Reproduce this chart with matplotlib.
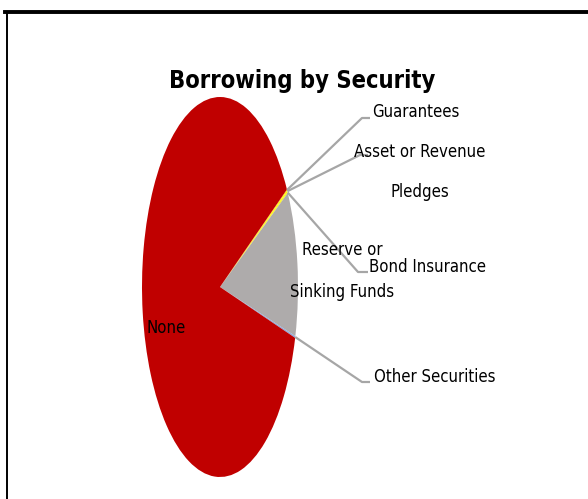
"""
Pie chart of borrowing broken down by security type.
"""
import numpy as np
import matplotlib
matplotlib.use('Agg')
import matplotlib.pyplot as plt
from matplotlib.lines import Line2D
from matplotlib import font_manager

categories = [
    'Guarantees',
    'Asset or Revenue\nPledges',
    'Bond Insurance',
    'Reserve or\nSinking Funds',
    'Other Securities',
    'None',
]
shares = [0.1, 0.15, 0.1, 12.4, 0.15, 87.1]  # percent of borrowing
colors = ['#FFC000', '#FFFF00', '#F2E21A', '#AEABAB', '#8EA9DB', '#C00000']

W, H = 588, 499          # figure size, px
CX, CY = 220, 287        # pie centre, px from top-left
RX, RY = 78, 190         # pie semi-axes, px

LEADER = '#A6A6A6'

# label placement (px): (elbow, line end, text x, ha, baselines)
label_layout = {
    'Guarantees': ((362, 118), (370, 118), 372, 'left', [117]),
    'Asset or Revenue\nPledges': ((360, 155), (368, 155), 420, 'center', [157, 197]),
    'Bond Insurance': ((358, 272), (368, 272), 369, 'left', [272]),
    'Reserve or\nSinking Funds': (None, None, 342, 'center', [255, 297]),
    'Other Securities': ((362, 382), (370, 382), 374, 'left', [382]),
    'None': (None, None, 166, 'center', [333]),
}


def pick_font():
    """Narrowest sans available, with label / title sizes to suit it."""
    fonts = font_manager.fontManager.ttflist
    names = {f.name for f in fonts}
    if 'Liberation Sans Narrow' in names:
        return dict(family='Liberation Sans Narrow'), 13, 18
    if any(f.name == 'DejaVu Sans' and f.stretch == 'condensed' for f in fonts):
        return dict(family='DejaVu Sans', stretch='condensed'), 12, 17
    return dict(family='Liberation Sans'), 11, 15


def to_data(px, py):
    return (px - CX) / RX, (CY - py) / RY


def main():
    font, label_size, title_size = pick_font()
    fig = plt.figure(figsize=(W / 100, H / 100), dpi=100)
    ax = fig.add_axes([0, 0, 1, 1])

    wedges, _ = ax.pie(
        shares, colors=colors, startangle=30.9, counterclock=False,
        radius=1, wedgeprops=dict(linewidth=0),
    )
    # stretch the unit circle into the tall ellipse
    ax.set_aspect('auto')
    ax.set_xlim(-CX / RX, (W - CX) / RX)
    ax.set_ylim(-(H - CY) / RY, CY / RY)
    ax.axis('off')

    for wedge, label in zip(wedges, categories):
        elbow, end, tx, ha, baselines = label_layout[label]
        if elbow is not None:
            mid = np.deg2rad(0.5 * (wedge.theta1 + wedge.theta2))
            ex, ey = to_data(*elbow)
            fx, fy = to_data(*end)
            ax.plot([np.cos(mid), ex, fx], [np.sin(mid), ey, fy],
                    color=LEADER, lw=1.6, solid_capstyle='butt', zorder=3)
        for line, base in zip(label.split('\n'), baselines):
            x, y = to_data(tx, base)
            ax.text(x, y, line, ha=ha, va='baseline', fontsize=label_size,
                    color='black', zorder=4, **font)

    tx, ty = to_data(302, 88)
    ax.text(tx, ty, 'Borrowing by Security', ha='center', va='baseline',
            fontsize=title_size, fontweight='bold', **font)

    # chart border: heavy top rule and thin left rule
    fig.add_artist(Line2D([5 / W, 1], [1 - 12 / H] * 2,
                          transform=fig.transFigure, color='black', lw=2.8))
    fig.add_artist(Line2D([6.5 / W] * 2, [0, 1 - 12 / H],
                          transform=fig.transFigure, color='black', lw=1.4))

    fig.savefig('out.png', dpi=100, facecolor='white')
    plt.close(fig)


if __name__ == '__main__':
    main()
